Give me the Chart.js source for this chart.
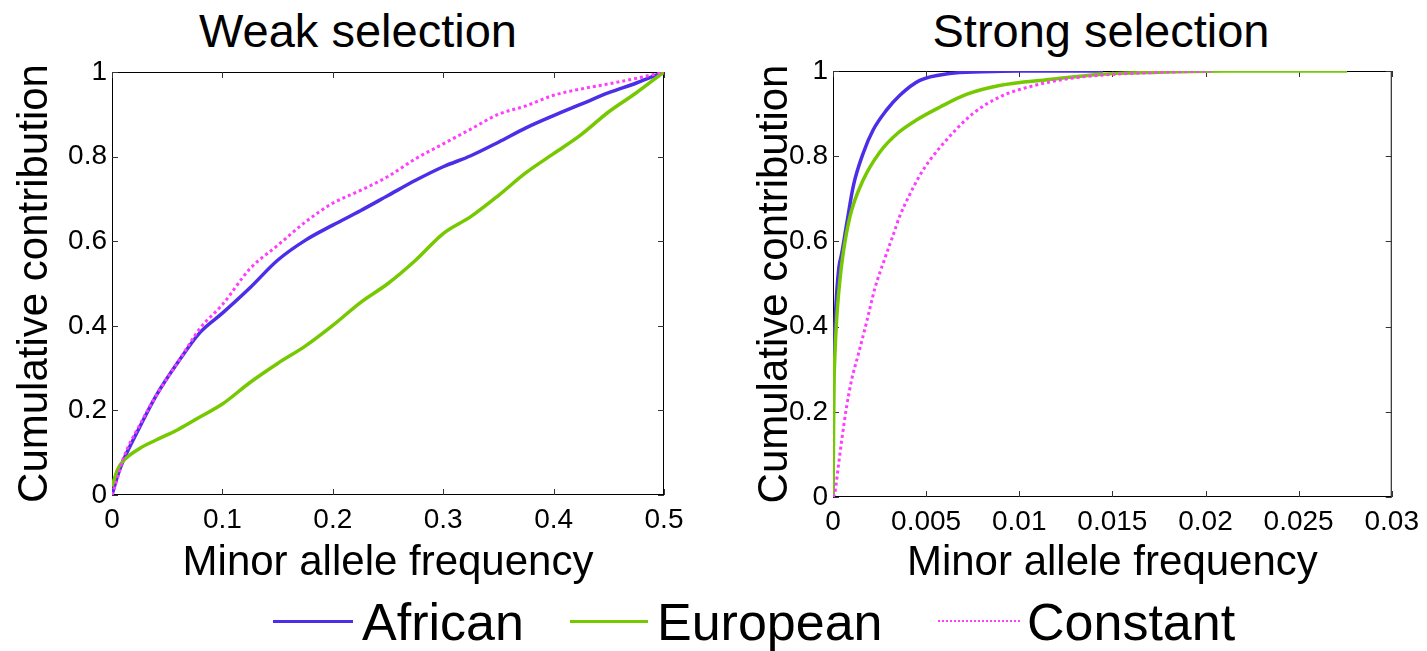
<!DOCTYPE html>
<html>
<head>
<meta charset="utf-8">
<script src="https://cdn.jsdelivr.net/npm/chart.js@4.4.0/dist/chart.umd.min.js"></script>
<style>
  html, body { margin: 0; padding: 0; background: #fff; overflow: hidden; }
  body { width: 1427px; height: 651px; position: relative; font-family: "Liberation Sans", Arial, sans-serif; color: #000; }
  canvas { position: absolute; top: 0; }
  .title { position: absolute; top: 7px; font-size: 47px; line-height: 1; white-space: nowrap; transform: translateX(-50%); }
  .key { position: absolute; top: 596px; font-size: 52px; line-height: 1; white-space: nowrap; }
  .swatch { position: absolute; top: 620px; height: 0; }
</style>
</head>
<body>
<div class="title" style="left:358px">Weak selection</div>
<div class="title" style="left:1101px">Strong selection</div>
<canvas id="weakChart" width="700" height="600" style="left:0"></canvas>
<canvas id="strongChart" width="707" height="600" style="left:720px"></canvas>

<div class="swatch" style="left:273px;width:80px;border-top:3px solid #4a2ee8"></div>
<div class="key" style="left:362px">African</div>
<div class="swatch" style="left:570px;width:78px;border-top:3px solid #76c800"></div>
<div class="key" style="left:657px">European</div>
<div class="swatch" style="left:938px;width:82px;border-top:2px dotted #ff3cff"></div>
<div class="key" style="left:1027px">Constant</div>

<script>
// weak selection: all three curves sampled at the same frequencies
const weakFreq     = [0, 0.005, 0.01, 0.025, 0.04, 0.06, 0.08, 0.1, 0.125, 0.15, 0.175, 0.2, 0.225, 0.25, 0.275, 0.3, 0.325, 0.35, 0.375, 0.4, 0.425, 0.45, 0.475, 0.5];
const weakAfrican  = [0, 0.045, 0.08, 0.16, 0.235, 0.315, 0.385, 0.43, 0.49, 0.555, 0.602, 0.638, 0.672, 0.708, 0.744, 0.776, 0.802, 0.834, 0.868, 0.897, 0.924, 0.951, 0.974, 1.0];
const weakEuropean = [0.02, 0.06, 0.08, 0.11, 0.13, 0.155, 0.185, 0.215, 0.266, 0.311, 0.352, 0.401, 0.455, 0.5, 0.555, 0.618, 0.658, 0.708, 0.762, 0.807, 0.852, 0.906, 0.951, 1.0];
const weakConstant = [0, 0.04, 0.085, 0.165, 0.235, 0.315, 0.395, 0.45, 0.535, 0.59, 0.645, 0.69, 0.72, 0.753, 0.795, 0.83, 0.865, 0.9, 0.92, 0.945, 0.96, 0.972, 0.985, 1.0];

// strong selection: each curve has its own frequencies
const strongAfricanFreq  = [0, 0.00002, 0.0001, 0.0002, 0.00032, 0.00046, 0.00073, 0.00109, 0.00162, 0.00216, 0.00287, 0.00359, 0.00466, 0.00626, 0.008, 0.01, 0.0145];
const strongAfrican      = [0, 0.25, 0.4, 0.48, 0.54, 0.57, 0.64, 0.73, 0.807, 0.862, 0.908, 0.943, 0.978, 0.994, 0.998, 1.0, 1.0];
const strongEuropeanFreq = [0, 0.00005, 0.0001, 0.0002, 0.00035, 0.00052, 0.00091, 0.00162, 0.00252, 0.0035, 0.00448, 0.00573, 0.00716, 0.00894, 0.01161, 0.01429, 0.0175, 0.021, 0.0276];
const strongEuropean     = [0, 0.25, 0.33, 0.42, 0.5, 0.564, 0.658, 0.744, 0.81, 0.855, 0.885, 0.915, 0.945, 0.966, 0.98, 0.992, 0.997, 1.0, 1.0];
const strongConstantFreq = [0, 0.0001, 0.00028, 0.00047, 0.00073, 0.001, 0.00136, 0.0018, 0.00225, 0.00275, 0.00323, 0.00359, 0.00412, 0.00466, 0.00519, 0.00573, 0.00644, 0.00751, 0.00894, 0.01072, 0.01251, 0.01429, 0.017, 0.0204];
const strongConstant     = [0, 0.01, 0.07, 0.134, 0.212, 0.275, 0.335, 0.41, 0.49, 0.556, 0.615, 0.66, 0.71, 0.755, 0.79, 0.82, 0.855, 0.9, 0.939, 0.965, 0.981, 0.99, 0.996, 1.0];

const weakTicks    = [0, 0.1, 0.2, 0.3, 0.4, 0.5];
const weakLabels   = ["0", "0.1", "0.2", "0.3", "0.4", "0.5"];
const strongTicks  = [0, 0.005, 0.01, 0.015, 0.02, 0.025, 0.03];
const strongLabels = ["0", "0.005", "0.01", "0.015", "0.02", "0.025", "0.03"];
const yTicks  = [0, 0.2, 0.4, 0.6, 0.8, 1];
const yLabels = ["0", "0.2", "0.4", "0.6", "0.8", "1"];

const BLUE = "#4a2ee8", GREEN = "#76c800", PINK = "#ff3cff";

Chart.defaults.font.family = '"Liberation Sans", Arial, sans-serif';
Chart.defaults.color = "#000";

function pts(xs, ys) {
  return xs.map((x, i) => ({ x: x, y: ys[i] }));
}

// box around the plot with short inward tick marks, like the original
const frame = {
  id: "frame",
  beforeDatasetsDraw(chart) {
    const { ctx, chartArea: a, scales: { x, y } } = chart;
    const len = 6;
    ctx.save();
    ctx.strokeStyle = "#000";
    ctx.lineWidth = 1;
    ctx.strokeRect(a.left + 0.5, a.top + 0.5, a.width - 1, a.height - 1);
    ctx.strokeStyle = "#333";
    ctx.beginPath();
    x.ticks.forEach(t => {
      const px = Math.round(x.getPixelForValue(t.value)) + 0.5;
      ctx.moveTo(px, a.bottom); ctx.lineTo(px, a.bottom - len);
      ctx.moveTo(px, a.top); ctx.lineTo(px, a.top + len);
    });
    y.ticks.forEach(t => {
      const py = Math.round(y.getPixelForValue(t.value)) + 0.5;
      ctx.moveTo(a.left, py); ctx.lineTo(a.left + len, py);
      ctx.moveTo(a.right, py); ctx.lineTo(a.right - len, py);
    });
    ctx.stroke();
    ctx.restore();
  }
};

function makeChart(id, cfg) {
  return new Chart(document.getElementById(id), {
    type: "line",
    data: {
      datasets: [
        { label: "African", data: cfg.african, borderColor: BLUE, borderWidth: 3.5, order: 3 },
        { label: "European", data: cfg.european, borderColor: GREEN, borderWidth: 3.5, order: 2 },
        { label: "Constant", data: cfg.constant, borderColor: PINK, borderWidth: 3, borderDash: [3, 3], order: 1 },
      ],
    },
    options: {
      responsive: false,
      animation: false,
      elements: { point: { radius: 0 }, line: { cubicInterpolationMode: "monotone", fill: false } },
      layout: { padding: cfg.padding },
      plugins: { legend: { display: false }, tooltip: { enabled: false } },
      scales: {
        x: {
          type: "linear",
          min: cfg.xTicks[0],
          max: cfg.xTicks[cfg.xTicks.length - 1],
          afterBuildTicks: s => { s.ticks = cfg.xTicks.map(v => ({ value: v })); },
          afterFit: s => { s.height = cfg.xHeight; },
          grid: { display: false, drawTicks: false },
          border: { display: false },
          ticks: { padding: 8, font: { size: 28 }, maxRotation: 0, autoSkip: false, callback: (v, i) => cfg.xLabels[i] },
          title: { display: true, text: "Minor allele frequency", font: { size: 42 }, padding: { top: 0, bottom: 11 } },
        },
        y: {
          type: "linear",
          min: 0,
          max: 1,
          afterBuildTicks: s => { s.ticks = yTicks.map(v => ({ value: v })); },
          afterFit: s => { s.width = cfg.yWidth; },
          grid: { display: false, drawTicks: false },
          border: { display: false },
          ticks: { padding: 5, font: { size: 28 }, autoSkip: false, callback: (v, i) => yLabels[i] },
          title: { display: true, text: "Cumulative contribution", font: { size: 42 }, padding: { top: cfg.yTitlePad, bottom: 0 } },
        },
      },
    },
    plugins: [frame],
  });
}

makeChart("weakChart", {
  african: pts(weakFreq, weakAfrican),
  european: pts(weakFreq, weakEuropean),
  constant: pts(weakFreq, weakConstant),
  xTicks: weakTicks, xLabels: weakLabels,
  padding: { top: 72, right: 36, bottom: 0, left: 0 },
  xHeight: 105, yWidth: 112, yTitlePad: 10,
});

makeChart("strongChart", {
  african: pts(strongAfricanFreq, strongAfrican),
  european: pts(strongEuropeanFreq, strongEuropean),
  constant: pts(strongConstantFreq, strongConstant),
  xTicks: strongTicks, xLabels: strongLabels,
  padding: { top: 71, right: 33, bottom: 0, left: 0 },
  xHeight: 103, yWidth: 113, yTitlePad: 30,
});
</script>
</body>
</html>
